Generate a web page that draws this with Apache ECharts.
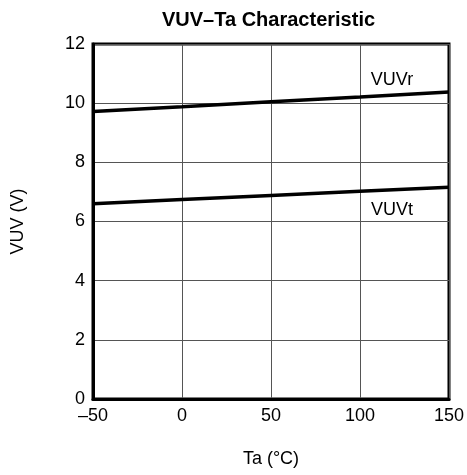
<!DOCTYPE html>
<html>
<head>
<meta charset="utf-8">
<script src="https://cdn.jsdelivr.net/npm/echarts@6/dist/echarts.min.js"></script>
<style>html,body{margin:0;padding:0;background:#fff}#c{width:467px;height:475px}</style>
</head>
<body>
<div id="c"></div>
<script>
var ta = [-50, 0, 50, 100, 150];
var vuvr = [9.72, 9.88, 10.05, 10.21, 10.38];
var vuvt = [6.60, 6.74, 6.88, 7.02, 7.16];
var xTicks = [-50, 0, 50, 100, 150];
var yTicks = [0, 2, 4, 6, 8, 10, 12];
var labelR = {name: 'VUVr', x: 118, y: 10.78};
var labelT = {name: 'VUVt', x: 118, y: 6.38};

var font = 'Liberation Sans, Arial, sans-serif';
function pairs(xs, ys){ return xs.map(function(x,i){ return [x, ys[i]]; }); }
var chart = echarts.init(document.getElementById('c'), null, {renderer:'canvas'});
chart.setOption({
  animation: false,
  backgroundColor: '#fff',
  graphic: [{
    type: 'text', left: 162, top: 10,
    style: {text: 'VUV\u2013Ta Characteristic', font: 'bold 20px ' + font, fill: '#000'}
  }],
  grid: {left: 93, right: 18, top: 44, bottom: 76, show: true, borderColor: '#000', borderWidth: 3, backgroundColor: 'transparent'},
  xAxis: {
    type: 'value', min: -50, max: 150, interval: 50,
    name: 'Ta (\u00b0C)', nameLocation: 'middle', nameGap: 51,
    nameTextStyle: {fontFamily: font, fontSize: 18, color: '#000'},
    axisLine: {show: true, onZero: false, lineStyle: {color: '#000', width: 3}},
    axisTick: {show: false},
    axisLabel: {fontFamily: font, fontSize: 18, color: '#000', margin: 8, showMinLabel: true, showMaxLabel: true,
      formatter: function(v){ return v < 0 ? '\u2013' + Math.abs(v) : String(v); }},
    splitLine: {show: true, lineStyle: {color: '#555', width: 1}}
  },
  yAxis: {
    type: 'value', min: 0, max: 12, interval: 2,
    name: 'VUV (V)', nameLocation: 'middle', nameGap: 66,
    nameTextStyle: {fontFamily: font, fontSize: 18, color: '#000'},
    axisLine: {show: true, onZero: false, lineStyle: {color: '#000', width: 3}},
    axisTick: {show: false},
    axisLabel: {fontFamily: font, fontSize: 18, color: '#000', margin: 8},
    splitLine: {show: true, lineStyle: {color: '#555', width: 1}}
  },
  series: [
    {type: 'line', data: pairs(ta, vuvr), symbol: 'none', lineStyle: {color: '#000', width: 3.5}, z: 3,
      markPoint: {symbol: 'circle', symbolSize: 0, silent: true,
        label: {show: true, position: 'inside', formatter: labelR.name, fontFamily: font, fontSize: 18, color: '#000'},
        data: [{coord: [labelR.x, labelR.y]}]}},
    {type: 'line', data: pairs(ta, vuvt), symbol: 'none', lineStyle: {color: '#000', width: 3.5}, z: 3,
      markPoint: {symbol: 'circle', symbolSize: 0, silent: true,
        label: {show: true, position: 'inside', formatter: labelT.name, fontFamily: font, fontSize: 18, color: '#000'},
        data: [{coord: [labelT.x, labelT.y]}]}}
  ]
});
</script>
</body>
</html>
